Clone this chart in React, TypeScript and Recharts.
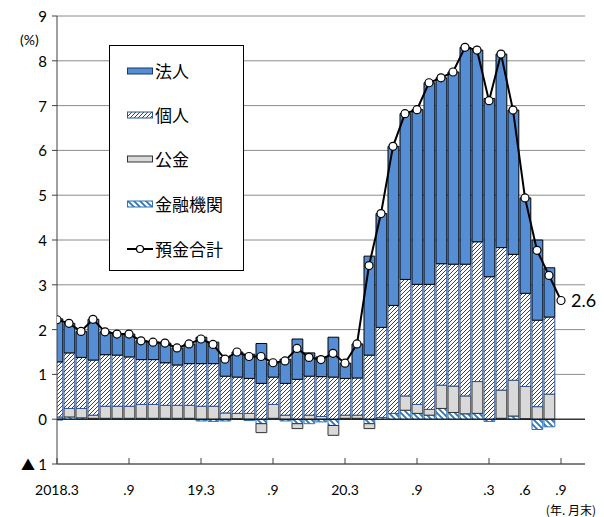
import React from 'react';
import { ComposedChart, Bar, Line, XAxis, YAxis, CartesianGrid, ReferenceLine } from 'recharts';

// ---- categories (month ends) ----
const months = [
  '2018.3', '2018.4', '2018.5', '2018.6', '2018.7', '2018.8', '2018.9', '2018.10', '2018.11', '2018.12',
  '2019.1', '2019.2', '2019.3', '2019.4', '2019.5', '2019.6', '2019.7', '2019.8', '2019.9', '2019.10', '2019.11', '2019.12',
  '2020.1', '2020.2', '2020.3', '2020.4', '2020.5', '2020.6', '2020.7', '2020.8', '2020.9', '2020.10', '2020.11', '2020.12',
  '2021.1', '2021.2', '2021.3', '2021.4', '2021.5', '2021.6', '2021.7', '2021.8', '2021.9',
];

// ---- series (contributions, %) ----
const hojin = [0.96, 0.66, 0.58, 0.91, 0.51, 0.47, 0.51, 0.42, 0.39, 0.44, 0.38, 0.44, 0.59, 0.48, 0.42, 0.56, 0.54, 0.89, 0.32, 0.54, 0.90, 0.52, 0.44, 0.89, 0.34, 0.76, 2.21, 2.54, 3.55, 3.70, 3.90, 4.50, 4.15, 4.29, 4.84, 4.28, 3.98, 4.32, 3.22, 2.13, 1.79, 1.10];
const kojin = [1.23, 1.24, 1.14, 1.23, 1.15, 1.14, 1.10, 1.00, 1.00, 0.95, 0.90, 0.93, 0.95, 0.95, 0.82, 0.81, 0.78, 0.80, 0.61, 0.71, 0.89, 0.87, 0.89, 0.94, 0.82, 0.83, 1.43, 2.01, 2.41, 2.60, 2.68, 2.79, 2.71, 2.72, 2.94, 3.12, 3.18, 3.18, 2.81, 2.08, 1.93, 1.72];
const kokin = [0.05, 0.19, 0.21, 0.07, 0.27, 0.27, 0.27, 0.31, 0.31, 0.29, 0.29, 0.29, 0.29, 0.29, 0.14, 0.12, 0.13, -0.20, 0.31, 0.09, -0.11, 0.09, 0.06, -0.22, 0.07, 0.07, -0.11, 0, 0, 0.32, 0.20, 0.13, 0.52, 0.59, 0.40, 0.71, 0, 0.63, 0.80, 0.72, 0.28, 0.56];
const kinyu = [-0.02, 0.05, 0.03, 0.02, 0.02, 0.02, 0.02, 0.02, 0.02, 0.02, 0.02, 0.02, -0.04, -0.05, -0.04, 0.01, -0.03, -0.10, 0.02, -0.04, -0.10, -0.10, -0.06, -0.14, 0.02, 0.02, -0.10, 0.04, 0.13, 0.20, 0.13, 0.09, 0.24, 0.15, 0.12, 0.13, -0.05, 0.02, 0.07, 0.01, -0.23, -0.17];
const total = [2.22, 2.14, 1.96, 2.23, 1.95, 1.90, 1.90, 1.75, 1.72, 1.70, 1.59, 1.68, 1.79, 1.67, 1.34, 1.50, 1.40, 1.40, 1.26, 1.30, 1.58, 1.38, 1.33, 1.47, 1.25, 1.68, 3.43, 4.59, 6.09, 6.82, 6.91, 7.51, 7.62, 7.75, 8.30, 8.24, 7.11, 8.15, 6.90, 4.94, 3.77, 3.21, 2.65];

// ---- tick labels ----
const xTickValues = [0, 6, 12, 18, 24, 30, 36, 39, 42];
const xTickLabels = ['2018.3', '.9', '19.3', '.9', '20.3', '.9', '.3', '.6', '.9'];
const xTickMarks = [0, 6, 12, 18, 24, 30, 36, 42];
const yTicks = [-1, 0, 1, 2, 3, 4, 5, 6, 7, 8, 9];
const yTickLabels = ['1', '0', '1', '2', '3', '4', '5', '6', '7', '8', '9'];
const negMark = '▲';
const endLabel = '2.6';
const yUnit = '(%)';
const xUnit = '(年. 月末)';
const seriesNames = ['法人', '個人', '公金', '金融機関', '預金合計'];

const data = months.map((m, i) => ({
  x: i,
  month: m,
  kinyu: kinyu[i],
  kokin: kokin[i],
  kojin: kojin[i],
  hojin: hojin[i],
  total: total[i],
}));

const NUM_FONT = 'Lato, "Noto Sans", sans-serif';
const CJK_FONT = '"Noto Sans CJK JP", "Noto Sans", sans-serif';

const XTick = (props: any) => {
  const { x, y, payload } = props;
  const v = payload.value;
  const idx = xTickValues.indexOf(v);
  const label = idx >= 0 ? xTickLabels[idx] : '';
  return (
    <g>
      {xTickMarks.includes(v) && <line x1={x} x2={x} y1={y} y2={y - 6} stroke="#404040" strokeWidth={1} />}
      <text x={x} y={y + 25} textAnchor="middle" dominantBaseline="central" fontSize={14} fontFamily={NUM_FONT} fill="#000">
        {label}
      </text>
    </g>
  );
};

const YTick = (props: any) => {
  const { x, y, payload } = props;
  const idx = yTicks.indexOf(payload.value);
  const label = idx >= 0 ? yTickLabels[idx] : '';
  const isNeg = payload.value < 0;
  return (
    <g>
      <line x1={x - 5} x2={x} y1={y} y2={y} stroke="#404040" strokeWidth={1} />
      <text x={x - 10} y={y} textAnchor="end" dominantBaseline="central" fontSize={15} fontFamily={NUM_FONT} fill="#000">
        {label}
      </text>
      {isNeg && (
        <text x={x - 22} y={y} textAnchor="end" dominantBaseline="central" fontSize={14} fontFamily={CJK_FONT} fill="#000">
          {negMark}
        </text>
      )}
    </g>
  );
};

const EndLabel = (props: any) => {
  const { x, y, index } = props;
  if (index !== total.length - 1) return <g />;
  return (
    <text x={x + 10} y={y} dominantBaseline="central" fontSize={18} fontFamily={NUM_FONT} fill="#000">
      {endLabel}
    </text>
  );
};

const Patterns = () => (
  <defs>
    <pattern id="hatchKojin" patternUnits="userSpaceOnUse" width="4" height="4">
      <rect width="4" height="4" fill="#fff" />
      <path d="M-1,1 L1,-1 M0,4 L4,0 M3,5 L5,3" stroke="#404040" strokeWidth="1" />
    </pattern>
    <pattern id="stripeKinyu" patternUnits="userSpaceOnUse" width="6" height="6">
      <rect width="6" height="6" fill="#fff" />
      <path d="M-1,-1 L7,7 M-1,5 L1,7 M5,-1 L7,1" stroke="#2E75B6" strokeWidth="1.8" />
    </pattern>
  </defs>
);

const LegendIcon = ({ kind }: { kind: number }) => {
  if (kind === 4) {
    return (
      <svg width={28} height={10}>
        <line x1={1} x2={27} y1={5} y2={5} stroke="#000" strokeWidth={2} />
        <circle cx={14} cy={5} r={3.5} fill="#fff" stroke="#000" strokeWidth={1.2} />
      </svg>
    );
  }
  const fills = ['#558ED5', 'url(#hatchKojin)', '#D9D9D9', 'url(#stripeKinyu)'];
  const strokes = ['#1F3864', '#2F5597', '#333', '#2E75B6'];
  return (
    <svg width={28} height={10}>
      <rect x={1.5} y={2} width={25} height={6} fill={fills[kind]} stroke={strokes[kind]} strokeWidth={1} />
    </svg>
  );
};

export default function App() {
  const itemTops = [25, 69, 113, 158, 203];
  return (
    <div style={{ position: 'absolute', left: 0, top: 0, width: 604, height: 517, background: '#fff', overflow: 'hidden' }}>
      <ComposedChart
        width={604}
        height={517}
        data={data}
        stackOffset="sign"
        margin={{ top: 16, right: 19, bottom: 23, left: 17 }}
      >
        <Patterns />
        <CartesianGrid vertical={false} stroke="#8c8c8c" strokeWidth={1} />
        <XAxis
          dataKey="x"
          type="number"
          domain={[0, 44]}
          ticks={xTickValues}
          interval={0}
          allowDataOverflow
          height={30}
          tickLine={false}
          tickSize={0}
          tickMargin={0}
          axisLine={{ stroke: '#404040', strokeWidth: 1 }}
          tick={<XTick />}
        />
        <YAxis
          type="number"
          domain={[-1, 9]}
          ticks={yTicks}
          interval={0}
          width={40}
          tickLine={false}
          tickSize={0}
          tickMargin={0}
          axisLine={{ stroke: '#404040', strokeWidth: 1 }}
          tick={<YTick />}
        />
        <ReferenceLine y={0} stroke="#000" strokeWidth={1} />
        <Bar dataKey="kinyu" stackId="a" barSize={12} fill="url(#stripeKinyu)" stroke="#2E75B6" strokeWidth={1} isAnimationActive={false} />
        <Bar dataKey="kokin" stackId="a" barSize={12} fill="#D9D9D9" stroke="#333" strokeWidth={1} isAnimationActive={false} />
        <Bar dataKey="kojin" stackId="a" barSize={12} fill="url(#hatchKojin)" stroke="#2F5597" strokeWidth={1} isAnimationActive={false} />
        <Bar dataKey="hojin" stackId="a" barSize={12} fill="#558ED5" stroke="#000" strokeWidth={1} isAnimationActive={false} />
        <Line
          type="linear"
          dataKey="total"
          stroke="#000"
          strokeWidth={2}
          dot={{ r: 4, fill: '#fff', stroke: '#000', strokeWidth: 1.2 }}
          label={<EndLabel />}
          isAnimationActive={false}
        />
      </ComposedChart>

      <div style={{ position: 'absolute', left: 20, top: 31, fontSize: 14, fontFamily: NUM_FONT, color: '#000' }}>{yUnit}</div>
      <div style={{ position: 'absolute', right: 8, top: 502, lineHeight: '15px', fontSize: 12, fontFamily: CJK_FONT, color: '#000', whiteSpace: 'nowrap' }}>{xUnit}</div>

      <div
        style={{
          position: 'absolute',
          left: 109,
          top: 45,
          width: 135,
          height: 226,
          border: '1px solid #000',
          background: '#fff',
          boxSizing: 'border-box',
        }}
      >
        {seriesNames.map((name, i) => (
          <div
            key={name}
            style={{
              position: 'absolute',
              left: 16,
              top: itemTops[i] - 13,
              height: 26,
              display: 'flex',
              alignItems: 'center',
              whiteSpace: 'nowrap',
            }}
          >
            <LegendIcon kind={i} />
            <span style={{ fontFamily: CJK_FONT, fontSize: 17, color: '#000', marginLeft: 1, lineHeight: '26px' }}>{name}</span>
          </div>
        ))}
      </div>
    </div>
  );
}
